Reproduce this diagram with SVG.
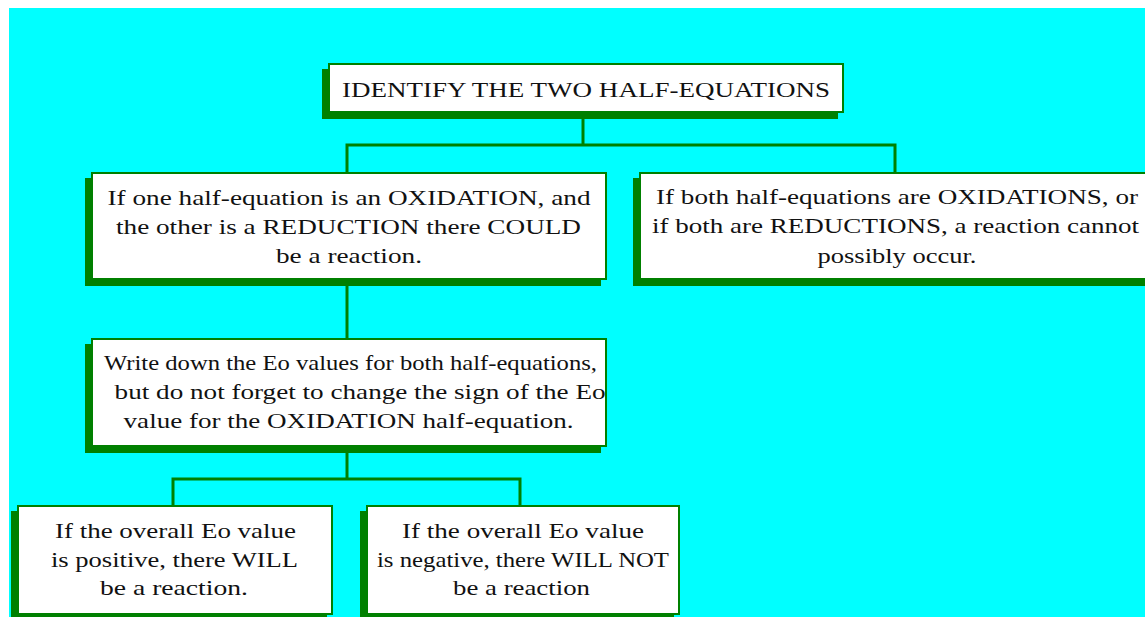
<svg xmlns="http://www.w3.org/2000/svg" width="1145" height="617" viewBox="0 0 1145 617">
  <style>
    .bg { fill: #00FFFF; }
    .shadow { fill: #008000; }
    .box { fill: #FFFFFF; stroke: #008000; stroke-width: 2; }
    .conn { fill: none; stroke: #008000; stroke-width: 3; }
    .t { font-family: "Liberation Serif", "Times New Roman", serif; font-size: 22px; fill: #111111; }
  </style>
  <rect x="0" y="0" width="1145" height="617" fill="#FFFFFF"/>
  <rect class="bg" x="9" y="8" width="1136" height="609"/>

  <g id="connectors">
    <path class="conn" d="M583,113 V145"/>
    <path class="conn" d="M347,172 V145 H895 V172"/>
    <path class="conn" d="M347,280 V338"/>
    <path class="conn" d="M347,447 V479"/>
    <path class="conn" d="M173,505 V479 H520 V505"/>
  </g>

  <g id="node-identify">
    <rect class="shadow" x="322" y="69" width="516" height="50"/>
    <rect class="box" x="329" y="64" width="514" height="48"/>
    <text class="t" x="342" y="96.5" textLength="488" lengthAdjust="spacingAndGlyphs">IDENTIFY THE TWO HALF-EQUATIONS</text>
  </g>

  <g id="node-could">
    <rect class="shadow" x="85" y="178" width="516" height="108"/>
    <rect class="box" x="92" y="173" width="514" height="106"/>
    <text class="t" x="107.5" y="205" textLength="483" lengthAdjust="spacingAndGlyphs">If one half-equation is an OXIDATION, and</text>
    <text class="t" x="116" y="234" textLength="465" lengthAdjust="spacingAndGlyphs">the other is a REDUCTION there COULD</text>
    <text class="t" x="276" y="263" textLength="146" lengthAdjust="spacingAndGlyphs">be a reaction.</text>
  </g>

  <g id="node-cannot">
    <rect class="shadow" x="633" y="178" width="516" height="108"/>
    <rect class="box" x="640" y="173" width="514" height="106"/>
    <text class="t" x="656" y="204" textLength="482" lengthAdjust="spacingAndGlyphs">If both half-equations are OXIDATIONS, or</text>
    <text class="t" x="652" y="233" textLength="487" lengthAdjust="spacingAndGlyphs">if both are REDUCTIONS, a reaction cannot</text>
    <text class="t" x="817.5" y="262.5" textLength="159" lengthAdjust="spacingAndGlyphs">possibly occur.</text>
  </g>

  <g id="node-eo">
    <rect class="shadow" x="85" y="344" width="516" height="109"/>
    <rect class="box" x="92" y="339" width="514" height="107"/>
    <text class="t" x="104" y="370" textLength="493" lengthAdjust="spacingAndGlyphs">Write down the Eo values for both half-equations,</text>
    <text class="t" x="114.6" y="399" textLength="491" lengthAdjust="spacingAndGlyphs">but do not forget to change the sign of the Eo</text>
    <text class="t" x="123.6" y="428" textLength="450" lengthAdjust="spacingAndGlyphs">value for the OXIDATION half-equation.</text>
  </g>

  <g id="node-positive">
    <rect class="shadow" x="11" y="511" width="316" height="110"/>
    <rect class="box" x="18" y="506" width="314" height="108"/>
    <text class="t" x="55" y="538" textLength="241" lengthAdjust="spacingAndGlyphs">If the overall Eo value</text>
    <text class="t" x="51" y="567" textLength="247" lengthAdjust="spacingAndGlyphs">is positive, there WILL</text>
    <text class="t" x="100" y="595" textLength="148" lengthAdjust="spacingAndGlyphs">be a reaction.</text>
  </g>

  <g id="node-negative">
    <rect class="shadow" x="360" y="511" width="314" height="110"/>
    <rect class="box" x="367" y="506" width="312" height="108"/>
    <text class="t" x="402" y="538" textLength="242" lengthAdjust="spacingAndGlyphs">If the overall Eo value</text>
    <text class="t" x="377" y="567" textLength="292" lengthAdjust="spacingAndGlyphs">is negative, there WILL NOT</text>
    <text class="t" x="453" y="595" textLength="137" lengthAdjust="spacingAndGlyphs">be a reaction</text>
  </g>
</svg>
